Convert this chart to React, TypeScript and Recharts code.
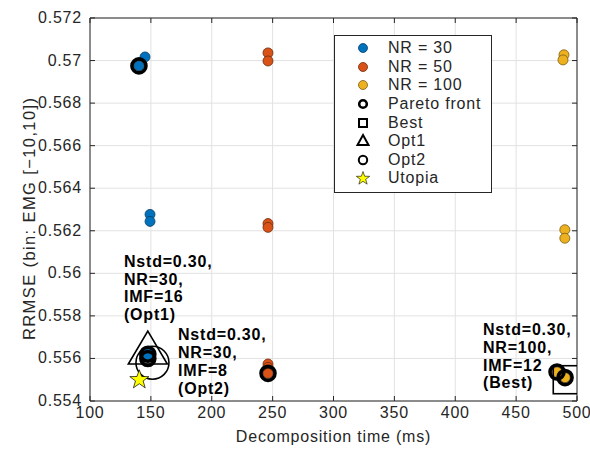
import React from 'react';
import { ScatterChart, Scatter, XAxis, YAxis, CartesianGrid, ReferenceLine, Legend, Label } from 'recharts';

const xTicks = [100, 150, 200, 250, 300, 350, 400, 450, 500];
const yTicks = [0.554, 0.556, 0.558, 0.56, 0.562, 0.564, 0.566, 0.568, 0.57, 0.572];

const nr30Time = [140.2, 145.2, 149.3, 149.3, 147.5, 147.5];
const nr30Rrmse = [0.56975, 0.57017, 0.56277, 0.56244, 0.5563, 0.5561];
const nr50Time = [246.2, 246.2, 246.2, 246.2, 246.2, 246.2, 246.2];
const nr50Rrmse = [0.57036, 0.56998, 0.56234, 0.56216, 0.55574, 0.55558, 0.5553];
const nr100Time = [489.3, 488.5, 490, 490, 483.6, 490.2];
const nr100Rrmse = [0.57027, 0.57003, 0.56205, 0.56165, 0.55536, 0.5551];

const paretoTime = [140.2, 147.5, 147.5, 246.2, 483.6, 490.2];
const paretoRrmse = [0.56975, 0.5562, 0.556, 0.5553, 0.55536, 0.5551];

const bestPoint = { x: 492, y: 0.555 };
const opt1Point = { x: 147.5, y: 0.5563 };
const opt2Point = { x: 151.3, y: 0.5558 };
const utopiaPoint = { x: 140.5, y: 0.555 };

const annotations = [
  { x: 127.9, y: 0.56031, lines: ['Nstd=0.30,', 'NR=30,', 'IMF=16', '(Opt1)'] },
  { x: 172.3, y: 0.55686, lines: ['Nstd=0.30,', 'NR=30,', 'IMF=8', '(Opt2)'] },
  { x: 422.8, y: 0.5571, lines: ['Nstd=0.30,', 'NR=100,', 'IMF=12', '(Best)'] },
];

const legendNames = ['NR = 30', 'NR = 50', 'NR = 100', 'Pareto front', 'Best', 'Opt1', 'Opt2', 'Utopia'];

const FONT = '"Liberation Sans", Arial, Helvetica, sans-serif';
const AX = '#262626';
const PLOT_TOP = 18;
const PLOT_BOTTOM = 401;
const PLOT_LEFT = 90;
const PLOT_RIGHT = 577;

const zip = (xs: number[], ys: number[]) => xs.map((x, i) => ({ x, y: ys[i] }));

const dot = (fill: string, stroke: string) => (p: any) => (
  <circle cx={p.cx} cy={p.cy} r={5} fill={fill} stroke={stroke} strokeWidth={0.8} />
);

const starPath = (cx: number, cy: number, R: number, r: number) => {
  const pts: string[] = [];
  for (let i = 0; i < 10; i++) {
    const a = -Math.PI / 2 + (i * Math.PI) / 5;
    const rad = i % 2 === 0 ? R : r;
    pts.push(`${cx + rad * Math.cos(a)},${cy + rad * Math.sin(a)}`);
  }
  return 'M' + pts.join('L') + 'Z';
};

const XTick = (p: any) => (
  <g>
    <line x1={p.x} x2={p.x} y1={PLOT_BOTTOM} y2={PLOT_BOTTOM - 5} stroke={AX} />
    <line x1={p.x} x2={p.x} y1={PLOT_TOP} y2={PLOT_TOP + 5} stroke={AX} />
    <text x={p.x} y={PLOT_BOTTOM + 17} textAnchor="middle" fill={AX} fontSize={16} letterSpacing={0.8} fontFamily={FONT}>
      {p.payload.value}
    </text>
  </g>
);

const YTick = (p: any) => (
  <g>
    <line x1={PLOT_LEFT} x2={PLOT_LEFT + 5} y1={p.y} y2={p.y} stroke={AX} />
    <line x1={PLOT_RIGHT} x2={PLOT_RIGHT - 5} y1={p.y} y2={p.y} stroke={AX} />
    <text x={PLOT_LEFT - 8} y={p.y + 5} textAnchor="end" fill={AX} fontSize={16} letterSpacing={0.8} fontFamily={FONT}>
      {String(Number(p.payload.value.toFixed(3)))}
    </text>
  </g>
);

const legendMarker = (i: number) => {
  switch (i) {
    case 0: return <circle cx={9} cy={9} r={4.5} fill="#0072BD" stroke="#0b3f66" strokeWidth={0.8} />;
    case 1: return <circle cx={9} cy={9} r={4.5} fill="#D95319" stroke="#6e2a0c" strokeWidth={0.8} />;
    case 2: return <circle cx={9} cy={9} r={4.5} fill="#EDB120" stroke="#7a5c10" strokeWidth={0.8} />;
    case 3: return <circle cx={9} cy={9} r={3.8} fill="none" stroke="#000" strokeWidth={2.6} />;
    case 4: return <rect x={5} y={5} width={8} height={8} fill="none" stroke="#000" strokeWidth={2} />;
    case 5: return <path d="M9,3 L14.5,13 L3.5,13 Z" fill="none" stroke="#000" strokeWidth={2} strokeLinejoin="miter" />;
    case 6: return <circle cx={9} cy={9} r={4.2} fill="none" stroke="#000" strokeWidth={2} />;
    default: return <path d={starPath(9, 9.5, 7, 2.8)} fill="#FFFF00" stroke="#000" strokeWidth={0.6} />;
  }
};

const LegendBox = () => (
  <div
    style={{
      width: 156,
      height: 153,
      border: `1px solid ${AX}`,
      background: '#fff',
      boxSizing: 'content-box',
      paddingTop: 3,
      fontFamily: FONT,
      fontSize: 16,
      letterSpacing: 0.8,
      color: AX,
    }}
  >
    {legendNames.map((name, i) => (
      <div key={name} style={{ display: 'flex', alignItems: 'center', height: 18.6, lineHeight: '18px' }}>
        <svg width={18} height={18} style={{ marginLeft: 19, marginRight: 16 }}>
          {legendMarker(i)}
        </svg>
        <span>{name}</span>
      </div>
    ))}
  </div>
);

export default function App() {
  return (
    <div style={{ position: 'absolute', left: 0, top: 0, width: 590, height: 450, background: '#fff' }}>
      <ScatterChart width={590} height={450} margin={{ top: PLOT_TOP, right: 590 - PLOT_RIGHT, bottom: 0, left: 0 }}>
        <CartesianGrid stroke="#e2e2e2" horizontalValues={yTicks} verticalValues={xTicks} />
        <XAxis
          type="number"
          dataKey="x"
          domain={[100, 500]}
          ticks={xTicks}
          allowDataOverflow
          height={450 - PLOT_BOTTOM}
          tickSize={0}
          tickMargin={0}
          tickLine={false}
          tick={<XTick />}
          stroke={AX}
          interval={0}
        >
          <Label
            content={(p: any) => (
              <text
                x={p.viewBox.x + p.viewBox.width / 2}
                y={p.viewBox.y + 41}
                textAnchor="middle"
                fill={AX}
                fontSize={16}
                letterSpacing={0.8}
                fontFamily={FONT}
              >
                Decomposition time (ms)
              </text>
            )}
          />
        </XAxis>
        <YAxis
          type="number"
          dataKey="y"
          domain={[0.554, 0.572]}
          ticks={yTicks}
          allowDataOverflow
          width={PLOT_LEFT}
          tickSize={0}
          tickMargin={0}
          tickLine={false}
          tick={<YTick />}
          stroke={AX}
          interval={0}
        >
          <Label
            content={(p: any) => {
              const cx = p.viewBox.x + 35;
              const cy = p.viewBox.y + p.viewBox.height / 2 + 9.5;
              return (
                <text
                  x={cx}
                  y={cy}
                  transform={`rotate(-90, ${cx}, ${cy})`}
                  textAnchor="middle"
                  fill={AX}
                  fontSize={16.5}
                  textLength={242}
                  lengthAdjust="spacing"
                  fontFamily={FONT}
                >
                  RRMSE (bin: EMG [−10,10])
                </text>
              );
            }}
          />
        </YAxis>
        <ReferenceLine y={0.572} stroke={AX} />
        <ReferenceLine x={500} stroke={AX} />

        <Scatter name="NR = 30" data={zip(nr30Time, nr30Rrmse)} shape={dot('#0072BD', '#0b3f66')} isAnimationActive={false} />
        <Scatter name="NR = 50" data={zip(nr50Time, nr50Rrmse)} shape={dot('#D95319', '#6e2a0c')} isAnimationActive={false} />
        <Scatter name="NR = 100" data={zip(nr100Time, nr100Rrmse)} shape={dot('#EDB120', '#7a5c10')} isAnimationActive={false} />
        <Scatter
          name="Opt1"
          data={[opt1Point]}
          isAnimationActive={false}
          shape={(p: any) => (
            <path
              d={`M${p.cx},${p.cy - 21} L${p.cx + 19.5},${p.cy + 12} L${p.cx - 19.5},${p.cy + 12} Z`}
              fill="none"
              stroke="#000"
              strokeWidth={1.6}
            />
          )}
        />
        <Scatter
          name="Opt2"
          data={[opt2Point]}
          isAnimationActive={false}
          shape={(p: any) => <circle cx={p.cx} cy={p.cy} r={16.5} fill="none" stroke="#000" strokeWidth={1.6} />}
        />
        <Scatter
          name="Pareto front"
          data={zip(paretoTime, paretoRrmse)}
          isAnimationActive={false}
          shape={(p: any) => <circle cx={p.cx} cy={p.cy} r={7} fill="none" stroke="#000" strokeWidth={3.6} />}
        />
        <Scatter
          name="Best"
          data={[bestPoint]}
          isAnimationActive={false}
          shape={(p: any) => (
            <rect x={p.cx - 14} y={p.cy - 14} width={28} height={28} fill="none" stroke="#000" strokeWidth={1.6} />
          )}
        />
        <Scatter
          name="Utopia"
          data={[utopiaPoint]}
          isAnimationActive={false}
          shape={(p: any) => <path d={starPath(p.cx, p.cy, 10, 4)} fill="#FFFF00" stroke="#000" strokeWidth={0.7} />}
        />
        <Scatter
          name="annotations"
          data={annotations}
          isAnimationActive={false}
          legendType="none"
          shape={(p: any) => (
            <text x={p.cx} y={p.cy} fill="#000" fontSize={16} fontWeight="bold" letterSpacing={0.8} fontFamily={FONT}>
              {p.payload.lines.map((l: string, i: number) => (
                <tspan key={i} x={p.cx} dy={i === 0 ? 0 : 17.8}>
                  {l}
                </tspan>
              ))}
            </text>
          )}
        />
        <Legend
          layout="vertical"
          align="center"
          verticalAlign="middle"
          content={() => <LegendBox />}
          wrapperStyle={{ left: 334, top: 35, width: 158, height: 157 }}
        />
      </ScatterChart>
    </div>
  );
}
